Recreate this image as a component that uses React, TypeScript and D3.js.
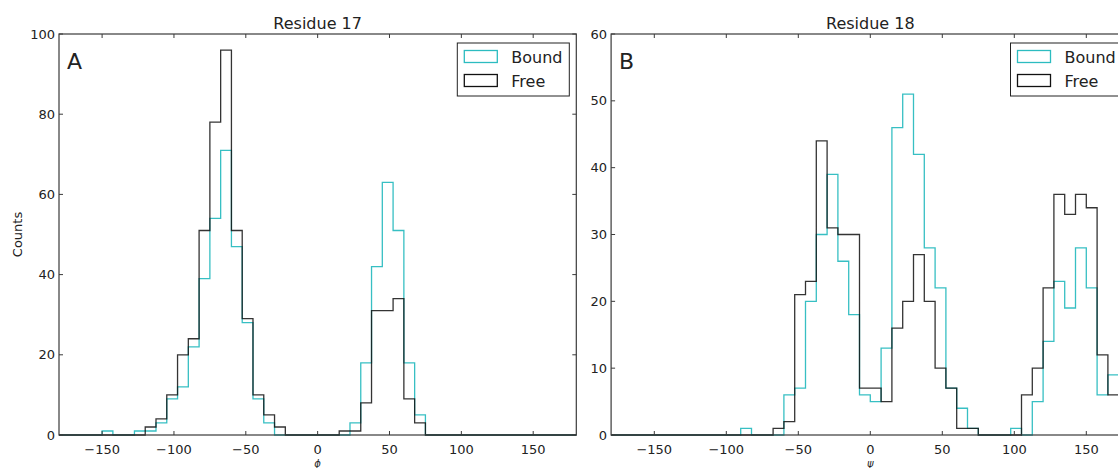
import React from "react";
import * as d3 from "d3";

// Bin edges: 48 bins of 7.5 degrees from -180 to 180
const binStart = -180;
const binWidth = 7.5;
const binCount = 48;

// Sparse counts: [left edge of bin, count]
const res17Bound: [number, number][] = [
  [-150, 1], [-127.5, 1], [-120, 1], [-112.5, 3], [-105, 9], [-97.5, 12], [-90, 22],
  [-82.5, 39], [-75, 54], [-67.5, 71], [-60, 47], [-52.5, 28], [-45, 9], [-37.5, 3],
  [22.5, 3], [30, 18], [37.5, 42], [45, 63], [52.5, 51], [60, 18], [67.5, 5],
];
const res17Free: [number, number][] = [
  [-120, 2], [-112.5, 4], [-105, 10], [-97.5, 20], [-90, 24], [-82.5, 51], [-75, 78],
  [-67.5, 96], [-60, 51], [-52.5, 29], [-45, 10], [-37.5, 5], [-30, 2],
  [15, 1], [22.5, 1], [30, 8], [37.5, 31], [45, 31], [52.5, 34], [60, 9], [67.5, 3],
];
const res18Bound: [number, number][] = [
  [-90, 1], [-60, 6], [-52.5, 7], [-45, 20], [-37.5, 30], [-30, 39], [-22.5, 26],
  [-15, 18], [-7.5, 6], [0, 5], [7.5, 13], [15, 46], [22.5, 51], [30, 42], [37.5, 28],
  [45, 22], [52.5, 7], [60, 4], [67.5, 1], [97.5, 1], [112.5, 5], [120, 14],
  [127.5, 23], [135, 19], [142.5, 28], [150, 22], [157.5, 6], [165, 9], [172.5, 2],
];
const res18Free: [number, number][] = [
  [-67.5, 1], [-60, 2], [-52.5, 21], [-45, 23], [-37.5, 44], [-30, 31], [-22.5, 30],
  [-15, 30], [-7.5, 7], [0, 7], [7.5, 5], [15, 16], [22.5, 20], [30, 27], [37.5, 20],
  [45, 10], [52.5, 7], [60, 1], [67.5, 1], [105, 6], [112.5, 10], [120, 22],
  [127.5, 36], [135, 33], [142.5, 36], [150, 34], [157.5, 12], [165, 6], [172.5, 2],
];

const xTicks = [-150, -100, -50, 0, 50, 100, 150];
const yTicks17 = [0, 20, 40, 60, 80, 100];
const yTicks18 = [0, 10, 20, 30, 40, 50, 60];
const seriesNames = ["Bound", "Free"];

const BOUND = "#2cbcc0";
const FREE = "#111111";
const SPINE = "#3a3a3a";
const FONT = "'DejaVu Sans', sans-serif";

function fullCounts(sparse: [number, number][]): number[] {
  const arr = new Array(binCount).fill(0);
  sparse.forEach(([e, c]) => {
    const i = Math.round((e - binStart) / binWidth);
    arr[i] = c;
  });
  return arr;
}

function stepPath(counts: number[], x: d3.ScaleLinear<number, number>, y: d3.ScaleLinear<number, number>) {
  const pts: [number, number][] = [[x(binStart), y(0)]];
  counts.forEach((c, i) => {
    const x0 = binStart + i * binWidth;
    pts.push([x(x0), y(c)]);
    pts.push([x(x0 + binWidth), y(c)]);
  });
  pts.push([x(binStart + binCount * binWidth), y(0)]);
  return d3.line()(pts) as string;
}

type PanelProps = {
  left: number;
  right: number;
  top: number;
  bottom: number;
  yMax: number;
  yTicks: number[];
  title: string;
  letter: string;
  xLabel: string;
  bound: [number, number][];
  free: [number, number][];
  showYLabel: boolean;
};

function Panel(p: PanelProps) {
  const x = d3.scaleLinear().domain([-180, 180]).range([p.left, p.right]);
  const y = d3.scaleLinear().domain([0, p.yMax]).range([p.bottom, p.top]);
  const tl = 4;
  const boundC = fullCounts(p.bound);
  const freeC = fullCounts(p.free);
  const legX = p.right - 7 - 112;
  const legY = 43;
  const minus = (v: number) => (v < 0 ? "\u2212" + Math.abs(v) : String(v));
  return (
    <g>
      <path d={stepPath(boundC, x, y)} fill="none" stroke={BOUND} strokeWidth={1.3} strokeOpacity={0.95} />
      <path d={stepPath(freeC, x, y)} fill="none" stroke={FREE} strokeWidth={1.3} strokeOpacity={0.85} />
      <rect x={p.left} y={p.top} width={p.right - p.left} height={p.bottom - p.top} fill="none" stroke={SPINE} strokeWidth={1.2} />
      {xTicks.map((t) => (
        <g key={"x" + t}>
          <line x1={x(t)} x2={x(t)} y1={p.bottom} y2={p.bottom - tl} stroke={SPINE} />
          <line x1={x(t)} x2={x(t)} y1={p.top} y2={p.top + tl} stroke={SPINE} />
          <text x={x(t)} y={454} textAnchor="middle" fontSize={13} fill="#222">{minus(t)}</text>
        </g>
      ))}
      {p.yTicks.map((t) => (
        <g key={"y" + t}>
          <line x1={p.left} x2={p.left + tl} y1={y(t)} y2={y(t)} stroke={SPINE} />
          <line x1={p.right} x2={p.right - tl} y1={y(t)} y2={y(t)} stroke={SPINE} />
          <text x={p.left - 4} y={y(t) + 4.5} textAnchor="end" fontSize={13} fill="#222">{t}</text>
        </g>
      ))}
      <text x={(p.left + p.right) / 2} y={29} textAnchor="middle" fontSize={16} fill="#222">{p.title}</text>
      <text x={p.left + 8} y={69} fontSize={22} fill="#222">{p.letter}</text>
      <text x={x(0)} y={467} textAnchor="middle" fontSize={10} fontStyle="italic" fill="#222">{p.xLabel}</text>
      {p.showYLabel && (
        <text transform={`translate(22,${(p.top + p.bottom) / 2}) rotate(-90)`} textAnchor="middle" fontSize={13} fill="#222">Counts</text>
      )}
      <g>
        <rect x={legX} y={legY} width={112} height={53} fill="white" stroke="#222" strokeWidth={1} />
        {seriesNames.map((n, i) => (
          <g key={n}>
            <rect x={legX + 7} y={legY + 7.5 + i * 24} width={33} height={12} fill="none" stroke={i === 0 ? BOUND : FREE} strokeWidth={1.3} />
            <text x={legX + 54} y={legY + 19.5 + i * 24} fontSize={16} fill="#222">{n}</text>
          </g>
        ))}
      </g>
    </g>
  );
}

export default function App() {
  return (
    <svg width={1118} height={468} style={{ position: "absolute", left: 0, top: 0, fontFamily: FONT, background: "white" }}>
      <rect width={1118} height={468} fill="white" />
      <Panel left={59} right={576.3} top={34} bottom={435} yMax={100} yTicks={yTicks17} title="Residue 17" letter="A" xLabel={"\u03d5"} bound={res17Bound} free={res17Free} showYLabel={true} />
      <Panel left={611.1} right={1129.5} top={34} bottom={435} yMax={60} yTicks={yTicks18} title="Residue 18" letter="B" xLabel={"\u03c8"} bound={res18Bound} free={res18Free} showYLabel={false} />
    </svg>
  );
}
